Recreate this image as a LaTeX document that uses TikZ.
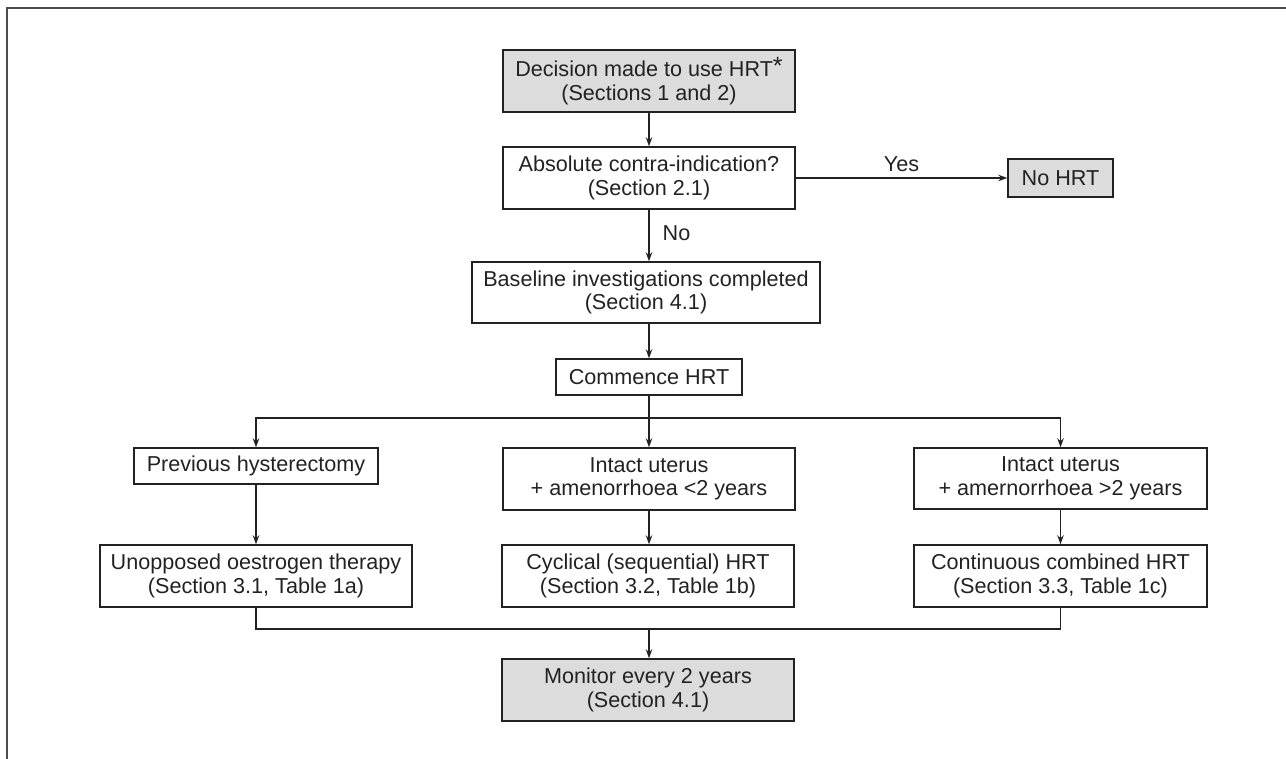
\documentclass[tikz,border=0pt]{standalone}
\usepackage{fontspec}
\setmainfont{Liberation Sans}
\usetikzlibrary{arrows.meta}
\definecolor{boxgray}{HTML}{DCDCDC}
\definecolor{ink}{HTML}{222222}
\tikzset{
  flowbox/.style={draw=ink, line width=1.5pt, text=ink, align=center, inner sep=0pt,
    font=\fontsize{21.6}{23.5}\selectfont},
  greybox/.style={flowbox, fill=boxgray},
  conn/.style={draw=ink, line width=1.3pt},
  arr/.style={conn, -{Stealth[length=9pt,width=6.5pt]}},
  lbl/.style={text=ink, font=\fontsize{21.6}{23.5}\selectfont, inner sep=0pt},
  frame/.style={draw=black!70, line width=2pt}
}
\begin{document}
\begin{tikzpicture}[x=1pt,y=-1pt]
\useasboundingbox (0,0) rectangle (1286,759);
\draw[frame] (6.5,759) -- (6.5,8) -- (1286,8);

\node[greybox, minimum width=292pt, minimum height=62pt] (dec) at (649,81) {Decision made to use HRT\raisebox{0.12em}{\fontsize{25}{25}\selectfont *}\\(Sections 1 and 2)};
\node[flowbox, fill=white, minimum width=292pt, minimum height=62pt] (abs) at (649,178) {Absolute contra-indication?\\(Section 2.1)};
\node[greybox, minimum width=105pt, minimum height=38pt] (nohrt) at (1060.5,178) {No HRT};
\node[flowbox, minimum width=348pt, minimum height=61pt] (base) at (646,292.5) {Baseline investigations completed\\(Section 4.1)};
\node[flowbox, minimum width=186pt, minimum height=36pt] (comm) at (649,377) {Commence HRT};
\node[flowbox, minimum width=244pt, minimum height=36pt] (prev) at (256,466) {Previous hysterectomy};
\node[flowbox, minimum width=292pt, minimum height=62pt] (int1) at (649,479) {Intact uterus\\+ amenorrhoea <2 years};
\node[flowbox, minimum width=293pt, minimum height=61pt] (int2) at (1060.5,478.5) {Intact uterus\\+ amernorrhoea >2 years};
\node[flowbox, minimum width=312pt, minimum height=62pt] (unop) at (256,576) {Unopposed oestrogen therapy\\(Section 3.1, Table 1a)};
\node[flowbox, minimum width=292pt, minimum height=62pt] (cyc) at (648,576) {Cyclical (sequential) HRT\\(Section 3.2, Table 1b)};
\node[flowbox, minimum width=293pt, minimum height=62pt] (cont) at (1060.5,576) {Continuous combined HRT\\(Section 3.3, Table 1c)};
\node[greybox, minimum width=292pt, minimum height=62pt] (mon) at (648,690) {Monitor every 2 years\\(Section 4.1)};

\coordinate (split) at (649,418);
\coordinate (merge) at (649,629);

\draw[arr] (dec.south) -- (abs.north);
\draw[arr] (abs.east) -- (nohrt.west) node[lbl, midway, above=6pt] {Yes};
\draw[arr] (abs.south) -- (abs.south |- base.north) node[lbl, pos=0.45, right=13pt] {No};
\draw[arr] (comm.north |- base.south) -- (comm.north);
\draw[conn] (comm.south) -- (split);
\draw[arr] (split) -| (prev.north);
\draw[arr] (split) -- (int1.north);
\draw[arr] (split) -| (int2.north);
\draw[arr] (prev.south) -- (unop.north);
\draw[arr] (int1.south) -- (int1.south |- cyc.north);
\draw[arr] (int2.south) -- (cont.north);
\draw[conn] (unop.south) |- (merge);
\draw[conn] (cont.south) |- (merge);
\draw[arr] (merge) -- (merge |- mon.north);
\end{tikzpicture}
\end{document}
